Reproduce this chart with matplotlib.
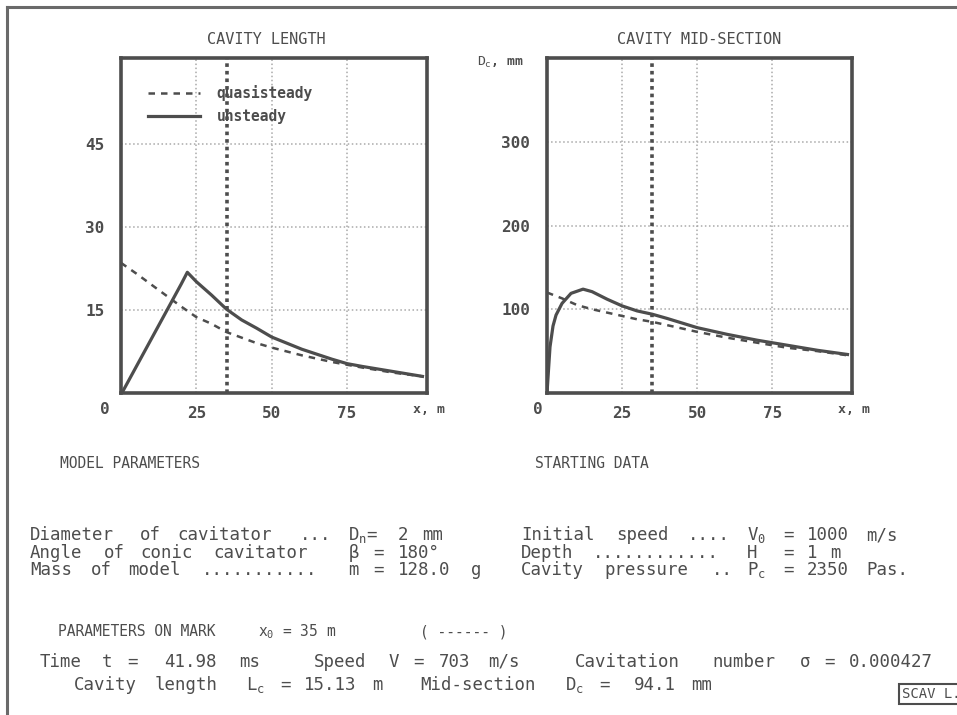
import matplotlib
matplotlib.use('Agg')
import matplotlib.pyplot as plt
from matplotlib.lines import Line2D

plt.rcParams['font.family'] = ['DejaVu Sans Mono']
plt.rcParams['mathtext.fontset'] = 'custom'
plt.rcParams['mathtext.rm'] = 'DejaVu Sans Mono'
plt.rcParams['mathtext.it'] = 'DejaVu Sans Mono'
plt.rcParams['mathtext.bf'] = 'DejaVu Sans Mono:bold'

INK = '#4d4d4d'
GRID = '#a9a9a9'

# ---------------- data ----------------
x_len_unsteady = [0.3, 5, 10, 15, 20, 22, 25, 30, 35, 40, 45, 50, 55, 60, 70, 75, 80, 90, 100]
len_unsteady = [0, 4.7, 9.7, 14.7, 19.7, 21.8, 20.1, 17.7, 15.13, 13.2, 11.7, 10.1, 9.0, 7.9, 6.1, 5.3, 4.8, 3.9, 3.0]
x_len_quasi = [0, 5, 10, 15, 20, 25, 30, 35, 40, 45, 50, 60, 70, 75, 80, 90, 100]
len_quasi = [23.5, 21.6, 19.6, 17.6, 15.6, 13.7, 12.5, 11.0, 10.0, 9.0, 8.2, 6.8, 5.6, 5.1, 4.6, 3.7, 3.0]

x_mid_unsteady = [0, 1, 2, 3, 5, 8, 12, 15, 20, 25, 30, 35, 40, 50, 60, 70, 75, 80, 90, 100]
mid_unsteady = [0, 55, 80, 93, 107, 119, 124, 121, 112, 104, 98, 94.1, 89, 78, 70, 63, 60, 57, 51, 46]
x_mid_quasi = [0, 5, 10, 15, 20, 25, 30, 35, 40, 50, 60, 70, 75, 80, 90, 100]
mid_quasi = [120, 113, 105, 100, 96, 92, 88, 85, 81, 73, 66, 60, 57, 54, 50, 45]

mark_x = 35
x_ticks = [25, 50, 75]
len_ticks = [15, 30, 45]
mid_ticks = [100, 200, 300]
legend_labels = ['quasisteady', 'unsteady']

titles = ['CAVITY LENGTH', 'CAVITY MID-SECTION']

model_lines = ['Diameter of cavitator ... $D_n$= 2 mm',
               'Angle of conic cavitator  β = 180°',
               'Mass of model ........... m = 128.0 g']
start_lines = ['Initial speed .... $V_0$ = 1000 m/s',
               'Depth ............ H  = 1 m',
               'Cavity pressure .. $P_c$ = 2350 Pas.']
mark_line1 = 'Time t =  41.98 ms    Speed V = 703 m/s    Cavitation number σ = 0.000427'
mark_line2 = ['Cavity length', '$L_c$ = 15.13 m', 'Mid-section', '$D_c$ =  94.1 mm']

# ---------------- figure ----------------
W, H = 957, 715
fig = plt.figure(figsize=(W / 100, H / 100), dpi=100)
fig.patch.set_facecolor('white')


def fx(px):
    return px / W


def fy(py):
    return 1 - py / H


ax1 = fig.add_axes([fx(121), fy(393), (427 - 121) / W, (393 - 58) / H])
ax2 = fig.add_axes([fx(547), fy(393), (852 - 547) / W, (393 - 58) / H])

ax1.set_ylim(0, 60.5)
ax1.set_yticks(len_ticks)
ax2.set_ylim(0, 400)
ax2.set_yticks(mid_ticks)

for ax in (ax1, ax2):
    ax.set_xlim(0, 101.5)
    ax.set_xticks(x_ticks)
    ax.grid(True, color=GRID, linestyle=':', linewidth=1.1)
    ax.set_axisbelow(True)
    for s in ax.spines.values():
        s.set_linewidth(2.6)
        s.set_color(INK)
    ax.tick_params(length=0, labelsize=11.5, labelcolor=INK)
    ax.tick_params(axis='x', pad=9)
    ax.tick_params(axis='y', pad=12)
    for lab in ax.get_xticklabels() + ax.get_yticklabels():
        lab.set_fontweight('bold')
    ax.axvline(mark_x, color=INK, linewidth=2.6, linestyle=(0, (1.0, 1.1)), zorder=3)
    ax.text(0.954, -0.05, 'x, m', transform=ax.transAxes, ha='left', va='center',
            fontsize=9.5, color=INK, fontweight='bold')

dash = (0, (2.6, 2.4))
lq, = ax1.plot(x_len_quasi, len_quasi, color=INK, linewidth=1.8, linestyle=dash)
lu, = ax1.plot(x_len_unsteady, len_unsteady, color=INK, linewidth=2.3)
ax2.plot(x_mid_quasi, mid_quasi, color=INK, linewidth=1.8, linestyle=dash)
ax2.plot(x_mid_unsteady, mid_unsteady, color=INK, linewidth=2.3)

leg = ax1.legend([lq, lu], legend_labels, loc='upper left', bbox_to_anchor=(0.088, 0.92),
                 frameon=False, borderpad=0, borderaxespad=0, handlelength=3.6,
                 handletextpad=1.1, labelspacing=0.55, prop={'size': 10.5, 'weight': 'bold'})
for t in leg.get_texts():
    t.set_color(INK)

ax1.text(0.474, 1.054, titles[0], transform=ax1.transAxes, ha='center', va='center',
         fontsize=11, color=INK)
ax2.text(0.5, 1.054, titles[1], transform=ax2.transAxes, ha='center', va='center',
         fontsize=11, color=INK)

ax1.text(-0.069, -0.05, '0', transform=ax1.transAxes, ha='left', va='center',
         fontsize=11.5, color=INK, fontweight='bold')
ax2.text(-0.045, -0.05, '0', transform=ax2.transAxes, ha='left', va='center',
         fontsize=11.5, color=INK, fontweight='bold')
ax2.text(-0.23, 0.988, '$D_c$, mm', transform=ax2.transAxes, ha='left', va='center',
         fontsize=9.5, color=INK, fontweight='bold')

# ---------------- text block ----------------
body = 12.5


def put(x, y, s, size=body):
    fig.text(fx(x), fy(y), s, fontsize=size, color=INK, va='center', ha='left')


def put_grid(x0, y, line, pitch, size=body):
    """Lay a line out word by word on a fixed character grid (wide pixel font)."""
    col = 0
    for tok in line.split(' '):
        if tok:
            put(x0 + col * pitch, y, tok, size)
        col += len(tok.replace('$', '').replace('_', '')) + 1


put(60, 463, 'MODEL PARAMETERS', 10.5)
put(535, 463, 'STARTING DATA', 10.5)
for i in range(3):
    y = 535 + i * 17.5
    put_grid(30, y, model_lines[i], 12.25)
    put_grid(521, y, start_lines[i], 11.9)

put(58, 632, 'PARAMETERS ON MARK', 10.5)
put(258, 632, '$x_0$ = 35 m', 10.5)
put(420, 632, '( ------ )', 10.5)

put_grid(40, 662, mark_line1, 12.45)
for seg, x0 in zip(mark_line2, [74, 246, 420, 565]):
    put_grid(x0, 685, seg, 11.5)

fig.text(fx(902), fy(694), 'SCAV L.3', fontsize=10, color=INK, va='center', ha='left',
         bbox=dict(boxstyle='square,pad=0.25', facecolor='white', edgecolor=INK, linewidth=1.5))

# outer frame (top and left edges visible)
fig.add_artist(Line2D([fx(7), 1.0], [fy(7), fy(7)], color='#6a6a6a', linewidth=2.2,
                      transform=fig.transFigure))
fig.add_artist(Line2D([fx(7), fx(7)], [fy(7), 0.0], color='#6a6a6a', linewidth=2.2,
                      transform=fig.transFigure))

fig.savefig('out.png', dpi=100, facecolor='white')
